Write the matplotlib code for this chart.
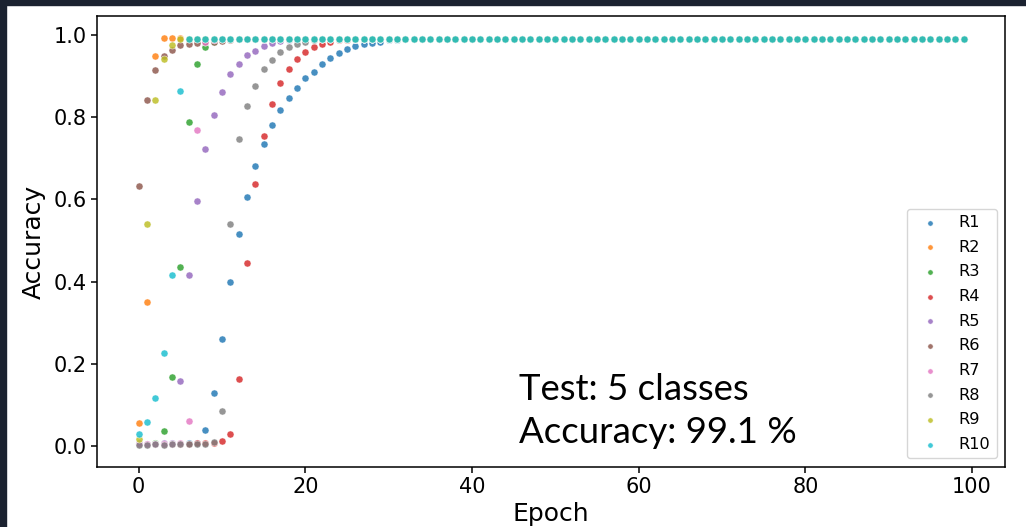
import matplotlib
matplotlib.use("Agg")
import matplotlib.pyplot as plt
from matplotlib.patches import Rectangle

# -----------------------------
# Accuracy per epoch (plateau at 0.991 afterwards)
# -----------------------------
n_epochs = 100
plateau = 0.991

r1 = [0.005, 0.004, 0.005, 0.004, 0.005, 0.005, 0.006, 0.008, 0.04, 0.13,
      0.26, 0.40, 0.515, 0.606, 0.68, 0.735, 0.78, 0.817, 0.846, 0.871,
      0.895, 0.911, 0.929, 0.944, 0.955, 0.965, 0.972, 0.977, 0.981, 0.984,
      0.987, 0.989]
r2 = [0.056, 0.35, 0.949, 0.993, 0.993, 0.992]
r3 = [0.005, 0.004, 0.006, 0.036, 0.168, 0.436, 0.789, 0.929, 0.971, 0.983]
r4 = [0.004, 0.005, 0.004, 0.005, 0.004, 0.005, 0.005, 0.006, 0.006, 0.008,
      0.012, 0.03, 0.163, 0.445, 0.637, 0.755, 0.832, 0.883, 0.917, 0.941,
      0.958, 0.971, 0.978, 0.983, 0.987, 0.989]
r5 = [0.006, 0.005, 0.005, 0.006, 0.008, 0.157, 0.415, 0.595, 0.722, 0.805,
      0.861, 0.904, 0.929, 0.951, 0.961, 0.973, 0.98, 0.985, 0.988]
r6 = [0.633, 0.842, 0.915, 0.949, 0.964, 0.975, 0.978, 0.98, 0.982, 0.984,
      0.986, 0.988]
r7 = [0.004, 0.005, 0.004, 0.005, 0.004, 0.006, 0.06, 0.768, 0.982, 0.988]
r8 = [0.003, 0.003, 0.004, 0.003, 0.004, 0.004, 0.004, 0.005, 0.005, 0.01,
      0.085, 0.54, 0.746, 0.826, 0.877, 0.917, 0.939, 0.959, 0.971, 0.978,
      0.984, 0.988]
r9 = [0.016, 0.54, 0.842, 0.942, 0.976]
r10 = [0.029, 0.058, 0.116, 0.226, 0.416, 0.863]

runs = [r1, r2, r3, r4, r5, r6, r7, r8, r9, r10]
labels = ["R1", "R2", "R3", "R4", "R5", "R6", "R7", "R8", "R9", "R10"]
colors = ["tab:blue", "tab:orange", "tab:green", "tab:red", "tab:purple",
          "tab:brown", "tab:pink", "tab:gray", "tab:olive", "tab:cyan"]

# -----------------------------
# Plot
# -----------------------------
fig = plt.figure(figsize=(10.26, 5.27), dpi=100)
ax = fig.add_axes([0.095, 0.1148, 0.8845, 0.8539])

for vals, lab, col in zip(runs, labels, colors):
    acc = vals + [plateau] * (n_epochs - len(vals))
    ax.scatter(range(n_epochs), acc, s=26, color=col, alpha=0.82,
               edgecolors="white", linewidths=0.4, label=lab)

ax.set_xlim(-4.95, 103.95)
ax.set_ylim(-0.05, 1.045)
ax.set_xticks([0, 20, 40, 60, 80, 100])
ax.set_yticks([0.0, 0.2, 0.4, 0.6, 0.8, 1.0])
ax.tick_params(labelsize=15, length=4.5, width=1.1, pad=3)
for sp in ax.spines.values():
    sp.set_linewidth(1.1)
ax.set_xlabel("Epoch", fontsize=18, labelpad=4)
ax.set_ylabel("Accuracy", fontsize=18, labelpad=6)

ax.legend(loc="lower right", fontsize=11.6, markerscale=0.75,
          labelspacing=0.6)

fig.text(519 / 1026, 1 - 443 / 527, "Test: 5 classes\nAccuracy: 99.1 %",
         family="Lato", fontsize=26.4, va="baseline", ha="left",
         linespacing=1.38)

# dark slide frame around the screenshot
frame = "#1b2230"
fig.add_artist(Rectangle((0, 1 - 5 / 527), 1, 5 / 527, transform=fig.transFigure,
                         color=frame, zorder=10))
fig.add_artist(Rectangle((0, 0), 6 / 1026, 1, transform=fig.transFigure,
                         color=frame, zorder=10))

fig.savefig("out.png", dpi=100)
